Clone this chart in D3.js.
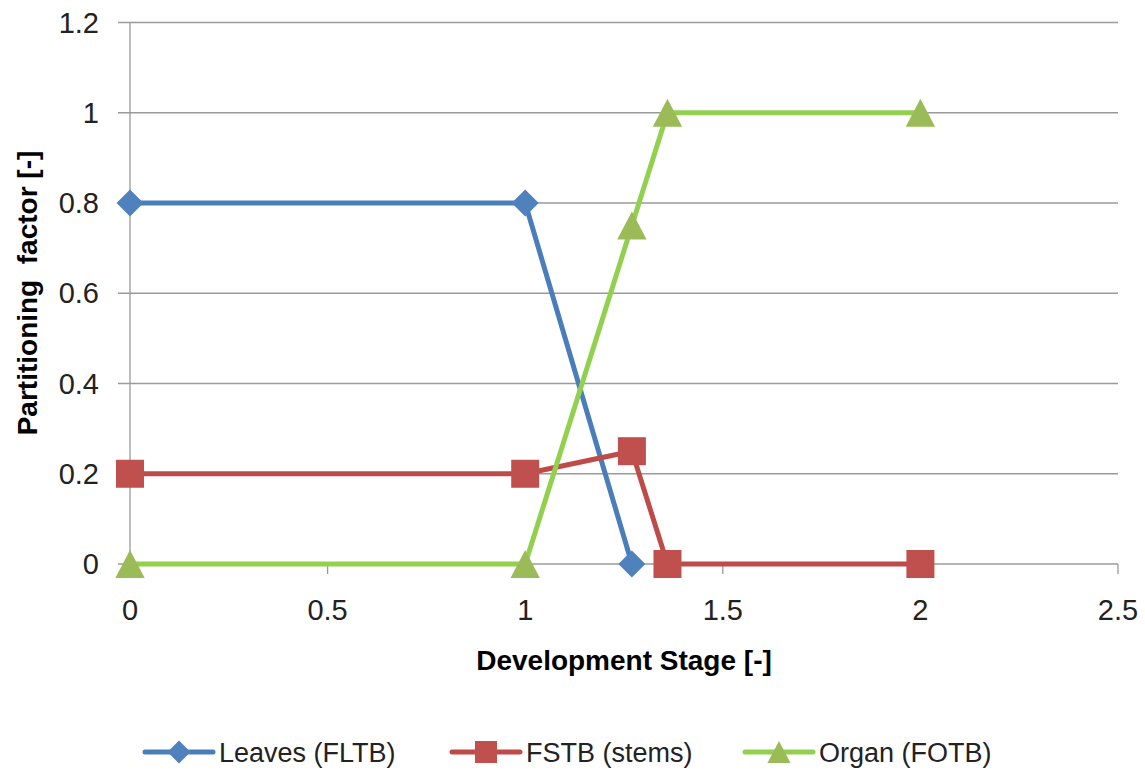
<!DOCTYPE html>
<meta charset="utf-8">
<script src="https://d3js.org/d3.v7.min.js"></script>
<style>
  body { margin: 0; background: #fff; }
  text { font-family: "Liberation Sans", Arial, sans-serif; fill: #222; }
</style>
<body>
<svg id="chart" width="1145" height="770"></svg>
<script>
// data
const seriesNames = ["Leaves (FLTB)", "FSTB (stems)", "Organ (FOTB)"];
const leavesX = [0, 1, 1.27];
const leavesY = [0.8, 0.8, 0];
const stemsX = [0, 1, 1.27, 1.36, 2];
const stemsY = [0.2, 0.2, 0.25, 0, 0];
const organX = [0, 1, 1.27, 1.36, 2];
const organY = [0, 0, 0.75, 1, 1];
const xTicks = [0, 0.5, 1, 1.5, 2, 2.5];
const yTicks = [0, 0.2, 0.4, 0.6, 0.8, 1, 1.2];

const svg = d3.select("#chart");

const x = d3.scaleLinear().domain([0, 2.5]).range([130, 1118]);
const y = d3.scaleLinear().domain([0, 1.2]).range([564, 22.5]);

// gridlines
svg.append("g")
  .selectAll("line")
  .data(yTicks)
  .join("line")
    .attr("x1", 118).attr("x2", x(2.5))
    .attr("y1", d => y(d)).attr("y2", d => y(d))
    .style("stroke", "#9a9a9a").style("stroke-width", 1.3);

// y axis line
svg.append("line")
  .attr("x1", x(0)).attr("x2", x(0))
  .attr("y1", y(1.2)).attr("y2", y(0))
  .style("stroke", "#9a9a9a").style("stroke-width", 1.3);

// x axis ticks
svg.append("g")
  .selectAll("line")
  .data(xTicks)
  .join("line")
    .attr("x1", d => x(d)).attr("x2", d => x(d))
    .attr("y1", y(0)).attr("y2", y(0) + 10)
    .style("stroke", "#9a9a9a").style("stroke-width", 1.3);

// tick labels
svg.append("g")
  .selectAll("text")
  .data(yTicks)
  .join("text")
    .attr("x", 99).attr("y", d => y(d) + 10)
    .attr("text-anchor", "end")
    .style("font-size", "29px")
    .text(d => d);

svg.append("g")
  .selectAll("text")
  .data(xTicks)
  .join("text")
    .attr("x", d => x(d)).attr("y", 620)
    .attr("text-anchor", "middle")
    .style("font-size", "29px")
    .text(d => d);

// axis titles
svg.append("text")
  .attr("x", 624).attr("y", 670)
  .attr("text-anchor", "middle")
  .style("font-size", "28px").style("font-weight", "bold").style("fill", "#000")
  .text("Development Stage [-]");

svg.append("text")
  .attr("transform", "translate(37,293) rotate(-90)")
  .attr("text-anchor", "middle")
  .style("font-size", "28px").style("font-weight", "bold").style("fill", "#000")
  .style("white-space", "pre")
  .text("Partitioning  factor [-]");

const series = [
  {name: seriesNames[0], xs: leavesX, ys: leavesY, line: "#4a7ebb", mark: "#4f81bd", sym: "diamond"},
  {name: seriesNames[1], xs: stemsX, ys: stemsY, line: "#be4b48", mark: "#c0504d", sym: "square"},
  {name: seriesNames[2], xs: organX, ys: organY, line: "#92d050", mark: "#9bbb59", sym: "triangle"}
];

const line = d3.line().x(d => x(d[0])).y(d => y(d[1]));

function marker(sym, size) {
  if (sym === "diamond") {
    return `M0,${-size}L${size},0L0,${size}L${-size},0Z`;
  }
  if (sym === "square") {
    return `M${-size},${-size}H${size}V${size}H${-size}Z`;
  }
  return `M0,${-size}L${size * 1.05},${size}H${-size * 1.05}Z`;
}

const sizes = [13.5, 14, 14];

series.forEach((s, i) => {
  const pts = s.xs.map((v, j) => [v, s.ys[j]]);
  svg.append("path")
    .attr("d", line(pts))
    .style("fill", "none")
    .style("stroke", s.line)
    .style("stroke-width", 5)
    .style("stroke-linejoin", "round");
  svg.append("g")
    .selectAll("path")
    .data(pts)
    .join("path")
      .attr("transform", d => `translate(${x(d[0])},${y(d[1])})`)
      .attr("d", marker(s.sym, sizes[i]))
      .style("fill", s.mark);
});

// legend
const legendX = [145, 452, 745];
series.forEach((s, i) => {
  const g = svg.append("g").attr("transform", `translate(${legendX[i]},752)`);
  g.append("line")
    .attr("x1", 0).attr("x2", 68)
    .style("stroke", s.line).style("stroke-width", 5)
    .style("stroke-linecap", "round");
  g.append("path")
    .attr("transform", "translate(34,0)")
    .attr("d", marker(s.sym, i === 0 ? 11.5 : 11))
    .style("fill", s.mark);
  g.append("text")
    .attr("x", 74).attr("y", 10)
    .style("font-size", "27px")
    .text(s.name);
});
</script>
</body>
